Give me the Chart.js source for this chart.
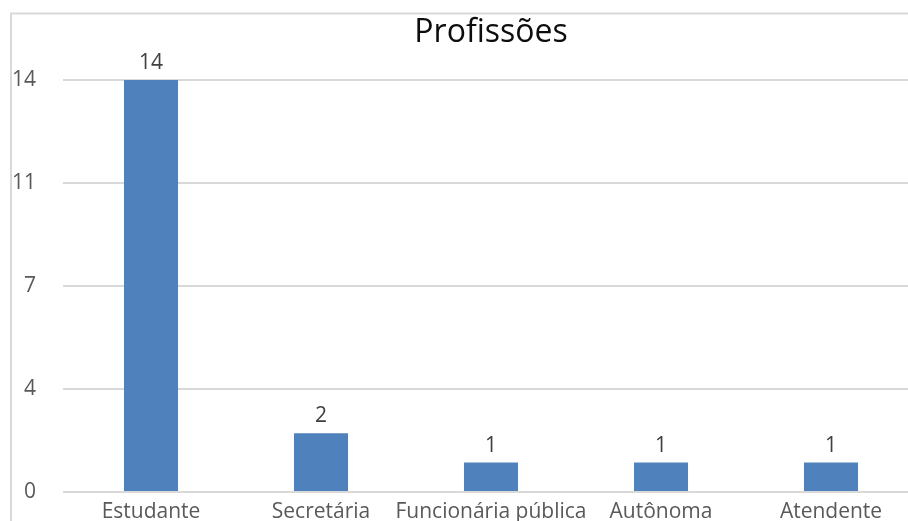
<!DOCTYPE html>
<html>
<head>
<meta charset="utf-8">
<script src="https://cdn.jsdelivr.net/npm/chart.js@4/dist/chart.umd.min.js"></script>
<style>
  html, body { margin: 0; padding: 0; background: #fff; overflow: hidden; }
  #wrap { width: 919px; height: 521px; position: relative; }
</style>
</head>
<body>
<div id="wrap"><canvas id="chart"></canvas></div>
<script>
// Profissões: count of respondents per occupation
const categories = ['Estudante', 'Secretária', 'Funcionária pública', 'Autônoma', 'Atendente'];
const counts = [14, 2, 1, 1, 1];
const tickValues = [0, 3.5, 7, 10.5, 14];
const chartTitle = 'Profissões';

const FONT = '"Open Sans", "Liberation Sans", sans-serif';
const GRID = '#d9d9d9';

// Light frame around the chart (top and left edges)
const framePlugin = {
  id: 'frame',
  beforeDraw(chart) {
    const c = chart.ctx;
    c.save();
    c.strokeStyle = GRID;
    c.lineWidth = 2;
    c.beginPath();
    c.moveTo(11, chart.height + 5);
    c.lineTo(11, 13.5);
    c.lineTo(chart.width + 5, 13.5);
    c.stroke();
    c.restore();
  }
};

// Title centred over the plot area
const titlePlugin = {
  id: 'plotTitle',
  afterDraw(chart) {
    const c = chart.ctx, a = chart.chartArea;
    c.save();
    c.font = '32px ' + FONT;
    c.fillStyle = '#0d0d0d';
    c.textAlign = 'center';
    c.textBaseline = 'alphabetic';
    c.fillText(chartTitle, (a.left + a.right) / 2, 42);
    c.restore();
  }
};

// Value labels above each bar
const valuePlugin = {
  id: 'values',
  afterDatasetsDraw(chart) {
    const c = chart.ctx;
    const meta = chart.getDatasetMeta(0);
    c.save();
    c.font = '21px ' + FONT;
    c.fillStyle = '#404040';
    c.textAlign = 'center';
    c.textBaseline = 'alphabetic';
    meta.data.forEach((bar, i) => {
      c.fillText(String(counts[i]), bar.x, bar.y - 11);
    });
    c.restore();
  }
};

new Chart(document.getElementById('chart'), {
  type: 'bar',
  data: {
    labels: categories,
    datasets: [{
      data: counts,
      backgroundColor: '#4f81bd',
      borderWidth: 0,
      barPercentage: 0.318,
      categoryPercentage: 1
    }]
  },
  options: {
    responsive: true,
    maintainAspectRatio: false,
    animation: false,
    events: [],
    layout: { padding: { top: 80, left: 0, right: 3, bottom: 0 } },
    plugins: {
      legend: { display: false },
      title: { display: false },
      tooltip: { enabled: false }
    },
    scales: {
      x: {
        grid: { display: false, drawTicks: false },
        border: { display: false },
        ticks: {
          color: '#595959',
          font: { family: FONT, size: 21 },
          padding: 7,
          maxRotation: 0,
          autoSkip: false
        },
        afterFit(scale) { scale.height = 29; }
      },
      y: {
        min: 0,
        max: 14,
        afterBuildTicks(scale) {
          scale.ticks = tickValues.map(v => ({ value: v }));
        },
        grid: { color: GRID, lineWidth: 2, drawTicks: true, tickLength: 3, tickColor: GRID },
        border: { display: false },
        ticks: {
          color: '#595959',
          font: { family: FONT, size: 21 },
          padding: 27,
          callback: v => String(Math.round(v))
        },
        afterFit(scale) {
          scale.width = 66;
          scale.paddingTop = 0;
          scale.paddingBottom = 0;
        }
      }
    }
  },
  plugins: [framePlugin, titlePlugin, valuePlugin]
});
</script>
</body>
</html>
